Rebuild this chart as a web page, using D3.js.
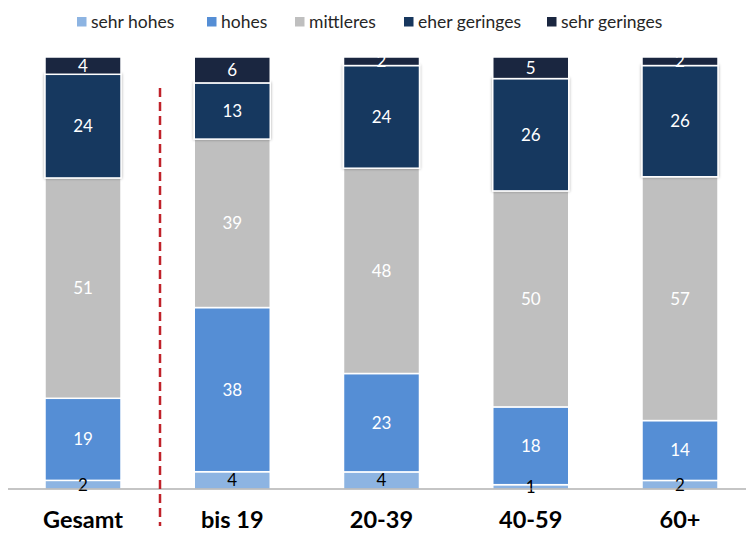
<!DOCTYPE html>
<html>
<head>
<meta charset="utf-8">
<script src="https://cdn.jsdelivr.net/npm/d3@7/dist/d3.min.js"></script>
<style>
  body { margin: 0; background: white; }
  svg { display: block; }
</style>
</head>
<body>
<div id="container"></div>
<script>
let w = 746;
let h = 534;

// data
let categories = ["Gesamt", "bis 19", "20-39", "40-59", "60+"];
let seriesNames = ["sehr hohes", "hohes", "mittleres", "eher geringes", "sehr geringes"];
let sehrHohes = [2, 4, 4, 1, 2];
let hohes = [19, 38, 23, 18, 14];
let mittleres = [51, 39, 48, 50, 57];
let eherGeringes = [24, 13, 24, 26, 26];
let sehrGeringes = [4, 6, 2, 5, 2];

let colors = ["#8db4e2", "#558ed5", "#bfbfbf", "#17375e", "#1a2640"];
let labelColors = ["#000000", "#ffffff", "#ffffff", "#ffffff", "#ffffff"];

let rows = categories.map(function(c, i){
  return {
    cat: c,
    "sehr hohes": sehrHohes[i],
    "hohes": hohes[i],
    "mittleres": mittleres[i],
    "eher geringes": eherGeringes[i],
    "sehr geringes": sehrGeringes[i]
  };
});

let viz = d3.select("#container")
  .append("svg")
    .attr("width", w)
    .attr("height", h)
    .style("font-family", "Lato, 'Open Sans', sans-serif")
;

let defs = viz.append("defs");
let shadow = defs.append("filter")
    .attr("id", "shadow")
    .attr("x", "-10%").attr("y", "-10%")
    .attr("width", "120%").attr("height", "120%");
shadow.append("feDropShadow")
    .attr("dx", 0).attr("dy", 0)
    .attr("stdDeviation", 1.5)
    .attr("flood-color", "#000")
    .attr("flood-opacity", 0.35);

let x = d3.scalePoint()
  .domain(categories)
  .range([83, 680])
;
let barW = 76;

let y = d3.scaleLinear()
  .domain([0, 1])
  .range([489, 57])
;

// bars are shown as shares of 100%
let stack = d3.stack()
  .keys(seriesNames)
  .offset(d3.stackOffsetExpand)
;
let stacked = stack(rows);

let layers = viz.selectAll(".layer").data(stacked).enter()
  .append("g")
    .attr("class", "layer")
    .attr("fill", function(d, i){ return colors[i]; })
    .attr("filter", function(d, i){ return i === 3 ? "url(#shadow)" : null; })
;

layers.selectAll("rect").data(function(d){ return d; }).enter()
  .append("rect")
    .attr("x", function(d){ return x(d.data.cat) - barW / 2; })
    .attr("y", function(d){ return y(d[1]); })
    .attr("width", barW)
    .attr("height", function(d){ return y(d[0]) - y(d[1]); })
    .style("stroke", "white")
    .style("stroke-width", 1.5)
;

// value labels
stacked.forEach(function(layer, li){
  viz.append("g").selectAll("text").data(layer).enter()
    .append("text")
      .text(function(d){ return d.data[layer.key]; })
      .attr("x", function(d){ return x(d.data.cat); })
      .attr("y", function(d){ return (y(d[0]) + y(d[1])) / 2; })
      .attr("dy", "0.35em")
      .attr("text-anchor", "middle")
      .style("fill", labelColors[li])
      .style("font-size", "17px")
  ;
});

// baseline
viz.append("line")
  .attr("x1", 8)
  .attr("x2", w)
  .attr("y1", y(0))
  .attr("y2", y(0))
  .style("stroke", "#8c8c8c")
  .style("stroke-width", 1.2)
;

// red dashed separator
viz.append("line")
  .attr("x1", 160)
  .attr("x2", 160)
  .attr("y1", 88)
  .attr("y2", 526)
  .style("stroke", "#c0222a")
  .style("stroke-width", 2.5)
  .style("stroke-dasharray", "9,5")
;

// category labels
viz.append("g").selectAll("text").data(categories).enter()
  .append("text")
    .text(function(d){ return d; })
    .attr("x", function(d){ return x(d); })
    .attr("y", 528)
    .attr("text-anchor", "middle")
    .style("font-weight", "bold")
    .style("font-size", "23.5px")
    .style("fill", "#000")
;

// legend
let legendX = [77, 207, 295, 404, 547];
let legend = viz.append("g").selectAll("g").data(seriesNames).enter()
  .append("g")
    .attr("transform", function(d, i){ return "translate(" + legendX[i] + ",17)"; })
;
legend.append("rect")
  .attr("width", 9.5)
  .attr("height", 9.5)
  .attr("fill", function(d, i){ return colors[i]; })
;
legend.append("text")
  .text(function(d){ return d; })
  .attr("x", 14)
  .attr("y", 11)
  .style("font-size", "17.5px")
  .style("fill", "#262626")
;
</script>
</body>
</html>
